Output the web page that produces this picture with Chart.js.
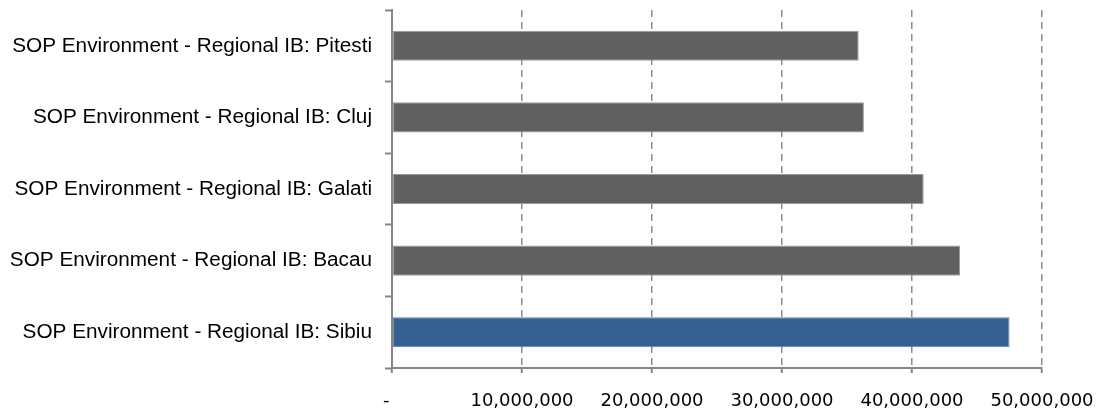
<!DOCTYPE html>
<html>
<head>
<meta charset="utf-8">
<script src="https://cdn.jsdelivr.net/npm/chart.js@4"></script>
<style>
  html, body { margin: 0; padding: 0; background: #fff; }
  #wrap { width: 1103px; height: 412px; position: relative; }
</style>
</head>
<body>
<div id="wrap"><canvas id="ibChart"></canvas></div>
<script>
/* -------- データ -------- */
const categories = [
  "SOP Environment - Regional IB: Pitesti",
  "SOP Environment - Regional IB: Cluj",
  "SOP Environment - Regional IB: Galati",
  "SOP Environment - Regional IB: Bacau",
  "SOP Environment - Regional IB: Sibiu"
];
const amounts = [35900000, 36300000, 40900000, 43700000, 47500000];
const highlighted = "SOP Environment - Regional IB: Sibiu";
const xTicks = [0, 10000000, 20000000, 30000000, 40000000, 50000000];

/* -------- 色 -------- */
const GRAY = "#606060";
const GRAY_EDGE = "#9a9a9a";
const BLUE = "#366092";
const BLUE_EDGE = "#5a7fae";
const AXIS = "#868686";

const fill = categories.map(c => c === highlighted ? BLUE : GRAY);
const edge = categories.map(c => c === highlighted ? BLUE_EDGE : GRAY_EDGE);

const ctx = document.getElementById("ibChart").getContext("2d");
window.chart = new Chart(ctx, {
  type: "bar",
  data: {
    labels: categories,
    datasets: [{
      data: amounts,
      backgroundColor: fill,
      borderColor: edge,
      borderWidth: 1,
      borderSkipped: false,
      barPercentage: 0.42,
      categoryPercentage: 1
    }]
  },
  options: {
    indexAxis: "y",
    responsive: true,
    maintainAspectRatio: false,
    animation: false,
    layout: { padding: { top: 10, right: 61, left: 0, bottom: 0 } },
    plugins: {
      legend: { display: false },
      tooltip: { enabled: false }
    },
    scales: {
      x: {
        min: 0,
        max: 50000000,
        afterBuildTicks(scale) {
          scale.ticks = xTicks.map(v => ({ value: v }));
        },
        afterFit(scale) {
          // 右端はレイアウトの padding で固定する
          scale.height = 44;
          scale.paddingLeft = 0;
          scale.paddingRight = 0;
        },
        // v4ではグリッド線の破線は border.dash で指定
        border: { display: true, color: AXIS, width: 2, dash: [7, 5] },
        grid: {
          color: "#8c8c8c",
          lineWidth: 1.5,
          drawTicks: true,
          tickLength: 5,
          tickColor: AXIS,
          tickWidth: 2,
          tickBorderDash: []
        },
        ticks: {
          color: "#000",
          padding: 18,
          maxRotation: 0,
          font: { family: "'DejaVu Sans'", size: 18 },
          // 0 は「-」表示（Excel の会計書式風）
          callback: v => v === 0 ? "-  " : v.toLocaleString("en-US")
        }
      },
      y: {
        afterFit(scale) {
          scale.width = 392;
          scale.paddingTop = 0;
          scale.paddingBottom = 0;
        },
        border: { display: true, color: AXIS, width: 2 },
        grid: {
          drawOnChartArea: false,
          tickLength: 7,
          tickColor: AXIS,
          tickWidth: 2
        },
        ticks: {
          color: "#000",
          padding: 13,
          font: { family: "'Liberation Sans', Arial", size: 20.75 }
        }
      }
    }
  }
});
</script>
</body>
</html>
